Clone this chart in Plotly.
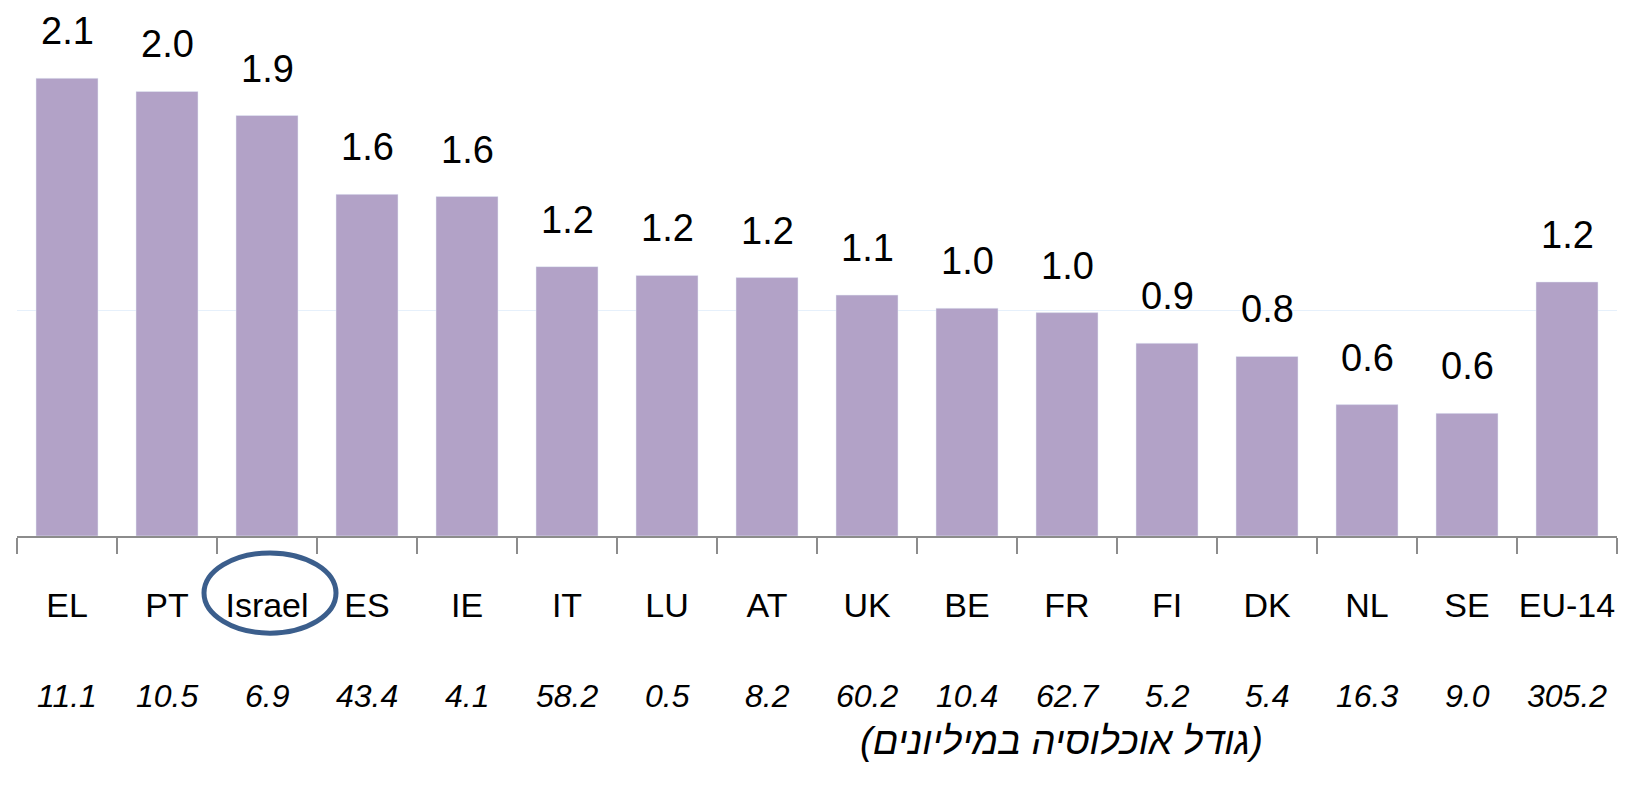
import plotly.graph_objects as go

# Data
countries = ["EL", "PT", "Israel", "ES", "IE", "IT", "LU", "AT", "UK", "BE",
             "FR", "FI", "DK", "NL", "SE", "EU-14"]
values = [2.09, 2.03, 1.92, 1.56, 1.55, 1.23, 1.19, 1.18, 1.10, 1.04,
          1.02, 0.88, 0.82, 0.60, 0.56, 1.16]
population = ["11.1", "10.5", "6.9", "43.4", "4.1", "58.2", "0.5", "8.2",
              "60.2", "10.4", "62.7", "5.2", "5.4", "16.3", "9.0", "305.2"]
pop_title = "(גודל אוכלוסיה במיליונים)"

FONT = "Liberation Sans, Arial, sans-serif"
BAR_COLOR = "#B2A2C7"

fig = go.Figure(
    go.Bar(
        x=countries,
        y=values,
        marker_color=BAR_COLOR,
        width=0.62,
        hoverinfo="x+y",
    )
)

# value labels above bars
for c, v in zip(countries, values):
    fig.add_annotation(
        x=c, y=v, text=f"{v:.1f}", showarrow=False,
        yanchor="bottom", yshift=24,
        font=dict(family=FONT, size=38, color="black"),
    )

# population row under category labels
for c, p in zip(countries, population):
    fig.add_annotation(
        x=c, y=-0.303, yref="paper", text=f"<i>{p}</i>", showarrow=False,
        yanchor="middle",
        font=dict(family=FONT, size=32, color="black"),
    )

fig.add_annotation(
    x=0.653, y=-0.388, xref="paper", yref="paper", text=f"<i>{pop_title}</i>",
    showarrow=False, yanchor="middle",
    font=dict(family=FONT, size=38, color="black"),
)

# circle around Israel
fig.add_shape(
    type="circle", xref="x", yref="paper",
    x0=1.37, x1=2.69, y0=-0.184, y1=-0.032,
    line=dict(color="#3B5E8C", width=5),
)

fig.update_layout(
    width=1632, height=791,
    margin=dict(l=9, r=23, t=0, b=263),
    plot_bgcolor="white", paper_bgcolor="white",
    showlegend=False,
)
fig.update_xaxes(
    showline=True, linecolor="#8C8C8C", linewidth=2,
    ticks="outside", tickson="boundaries", ticklen=16, tickwidth=2,
    tickcolor="#8C8C8C", ticklabelstandoff=38, tickangle=0,
    tickfont=dict(family=FONT, size=34, color="black"),
    range=[-0.5, 15.5], automargin=False,
)
fig.update_yaxes(
    range=[0, 2.411], showticklabels=False, zeroline=False,
    tickvals=[1.03], showgrid=True, gridcolor="#E6F0FB", gridwidth=1,
    automargin=False,
)

fig.write_html("out.html")
